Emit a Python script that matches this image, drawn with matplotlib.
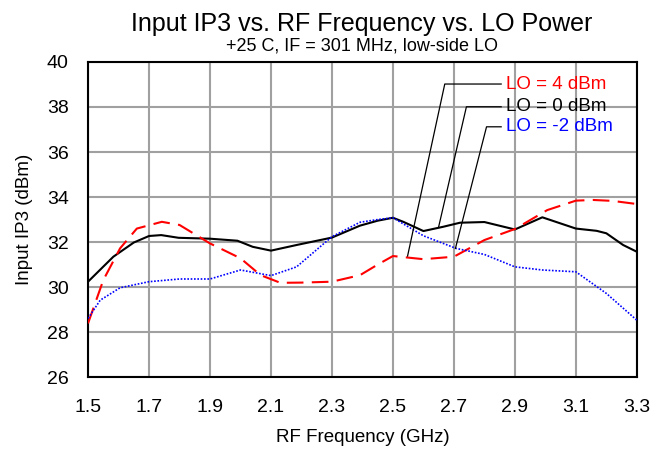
import matplotlib
matplotlib.use('Agg')
import matplotlib.pyplot as plt

plt.rcParams['font.family'] = ['Liberation Sans', 'DejaVu Sans']

# LO = 0 dBm (black, solid)
f_lo0 = [1.5, 1.583, 1.65, 1.7, 1.74, 1.797, 1.9, 1.99, 2.04, 2.1, 2.184, 2.3, 2.392,
         2.45, 2.5, 2.534, 2.6, 2.665, 2.72, 2.8, 2.9, 2.99, 3.1, 3.168, 3.2, 3.255, 3.3]
ip3_lo0 = [30.24, 31.35, 31.98, 32.27, 32.31, 32.19, 32.15, 32.06, 31.79, 31.62, 31.87, 32.2, 32.73,
           32.95, 33.08, 32.9, 32.49, 32.68, 32.86, 32.89, 32.56, 33.1, 32.6, 32.5, 32.39, 31.87, 31.57]

# LO = 4 dBm (red, dashed)
f_lo4 = [1.5, 1.55, 1.605, 1.66, 1.742, 1.8, 1.9, 2.0, 2.066, 2.131, 2.2, 2.3, 2.392,
         2.45, 2.5, 2.6, 2.7, 2.8, 2.9, 3.006, 3.1, 3.157, 3.22, 3.3]
ip3_lo4 = [28.39, 30.31, 31.72, 32.6, 32.9, 32.76, 31.94, 31.28, 30.53, 30.19, 30.2, 30.24, 30.53,
           31.0, 31.38, 31.24, 31.35, 32.09, 32.58, 33.42, 33.84, 33.87, 33.83, 33.69]

# LO = -2 dBm (blue, dotted)
f_lom2 = [1.5, 1.54, 1.605, 1.7, 1.8, 1.9, 2.0, 2.1, 2.184, 2.3, 2.392, 2.45, 2.5,
          2.6, 2.707, 2.8, 2.9, 2.99, 3.1, 3.2, 3.3]
ip3_lom2 = [28.61, 29.42, 29.97, 30.24, 30.36, 30.36, 30.76, 30.51, 30.9, 32.24, 32.88, 33.0, 33.08,
            32.28, 31.72, 31.45, 30.9, 30.76, 30.68, 29.72, 28.53]

labels = ['LO = 4 dBm', 'LO = 0 dBm', 'LO = -2 dBm']
colors = ['#ff0000', '#000000', '#0000ff']
# leader lines: point on curve, elbow, text position
lead_pts = [(2.548, 31.38), (2.65, 32.68), (2.705, 31.72)]
lead_elb = [(2.670, 39.02), (2.741, 38.01), (2.807, 37.12)]
text_x = 2.87

fig = plt.figure(figsize=(6.62, 4.49), dpi=100)
ax = fig.add_axes([0.133, 0.160, 0.829, 0.702])

ax.plot(f_lo0, ip3_lo0, color='black', lw=1.5, zorder=3)
ax.plot(f_lo4, ip3_lo4, color='#ff0000', lw=1.5, ls=(0, (8, 4)), zorder=3)
ax.plot(f_lom2, ip3_lom2, color='#0000ff', lw=1.2, ls=(0, (1, 1)), zorder=3)

for lab, col, p, e in zip(labels, colors, lead_pts, lead_elb):
    ax.plot([p[0], e[0], text_x - 0.015], [p[1], e[1], e[1]], color='black', lw=0.9, zorder=4)
    ax.text(text_x, e[1], lab, color=col, fontsize=13.5, va='center', ha='left', zorder=5)

ax.set_xlim(1.5, 3.3)
ax.set_ylim(26, 40)
ax.set_xticks([1.5, 1.7, 1.9, 2.1, 2.3, 2.5, 2.7, 2.9, 3.1, 3.3])
ax.set_yticks(range(26, 41, 2))
ax.tick_params(length=0, labelsize=14)
ax.tick_params(axis='x', pad=16)
ax.tick_params(axis='y', pad=14)
ax.grid(True, color='#a0a0a0', lw=1.5)
ax.set_axisbelow(True)
for s in ax.spines.values():
    s.set_linewidth(1.5)

ax.set_xlabel('RF Frequency (GHz)', fontsize=13.5, labelpad=9)
ax.set_ylabel('Input IP3 (dBm)', fontsize=13.5, labelpad=10)

fig.text(0.547, 0.947, 'Input IP3 vs. RF Frequency vs. LO Power', fontsize=18, ha='center', va='center')
fig.text(0.547, 0.897, '+25 C, IF = 301 MHz, low-side LO', fontsize=13, ha='center', va='center')

fig.savefig('out.png', dpi=100, facecolor='white')
